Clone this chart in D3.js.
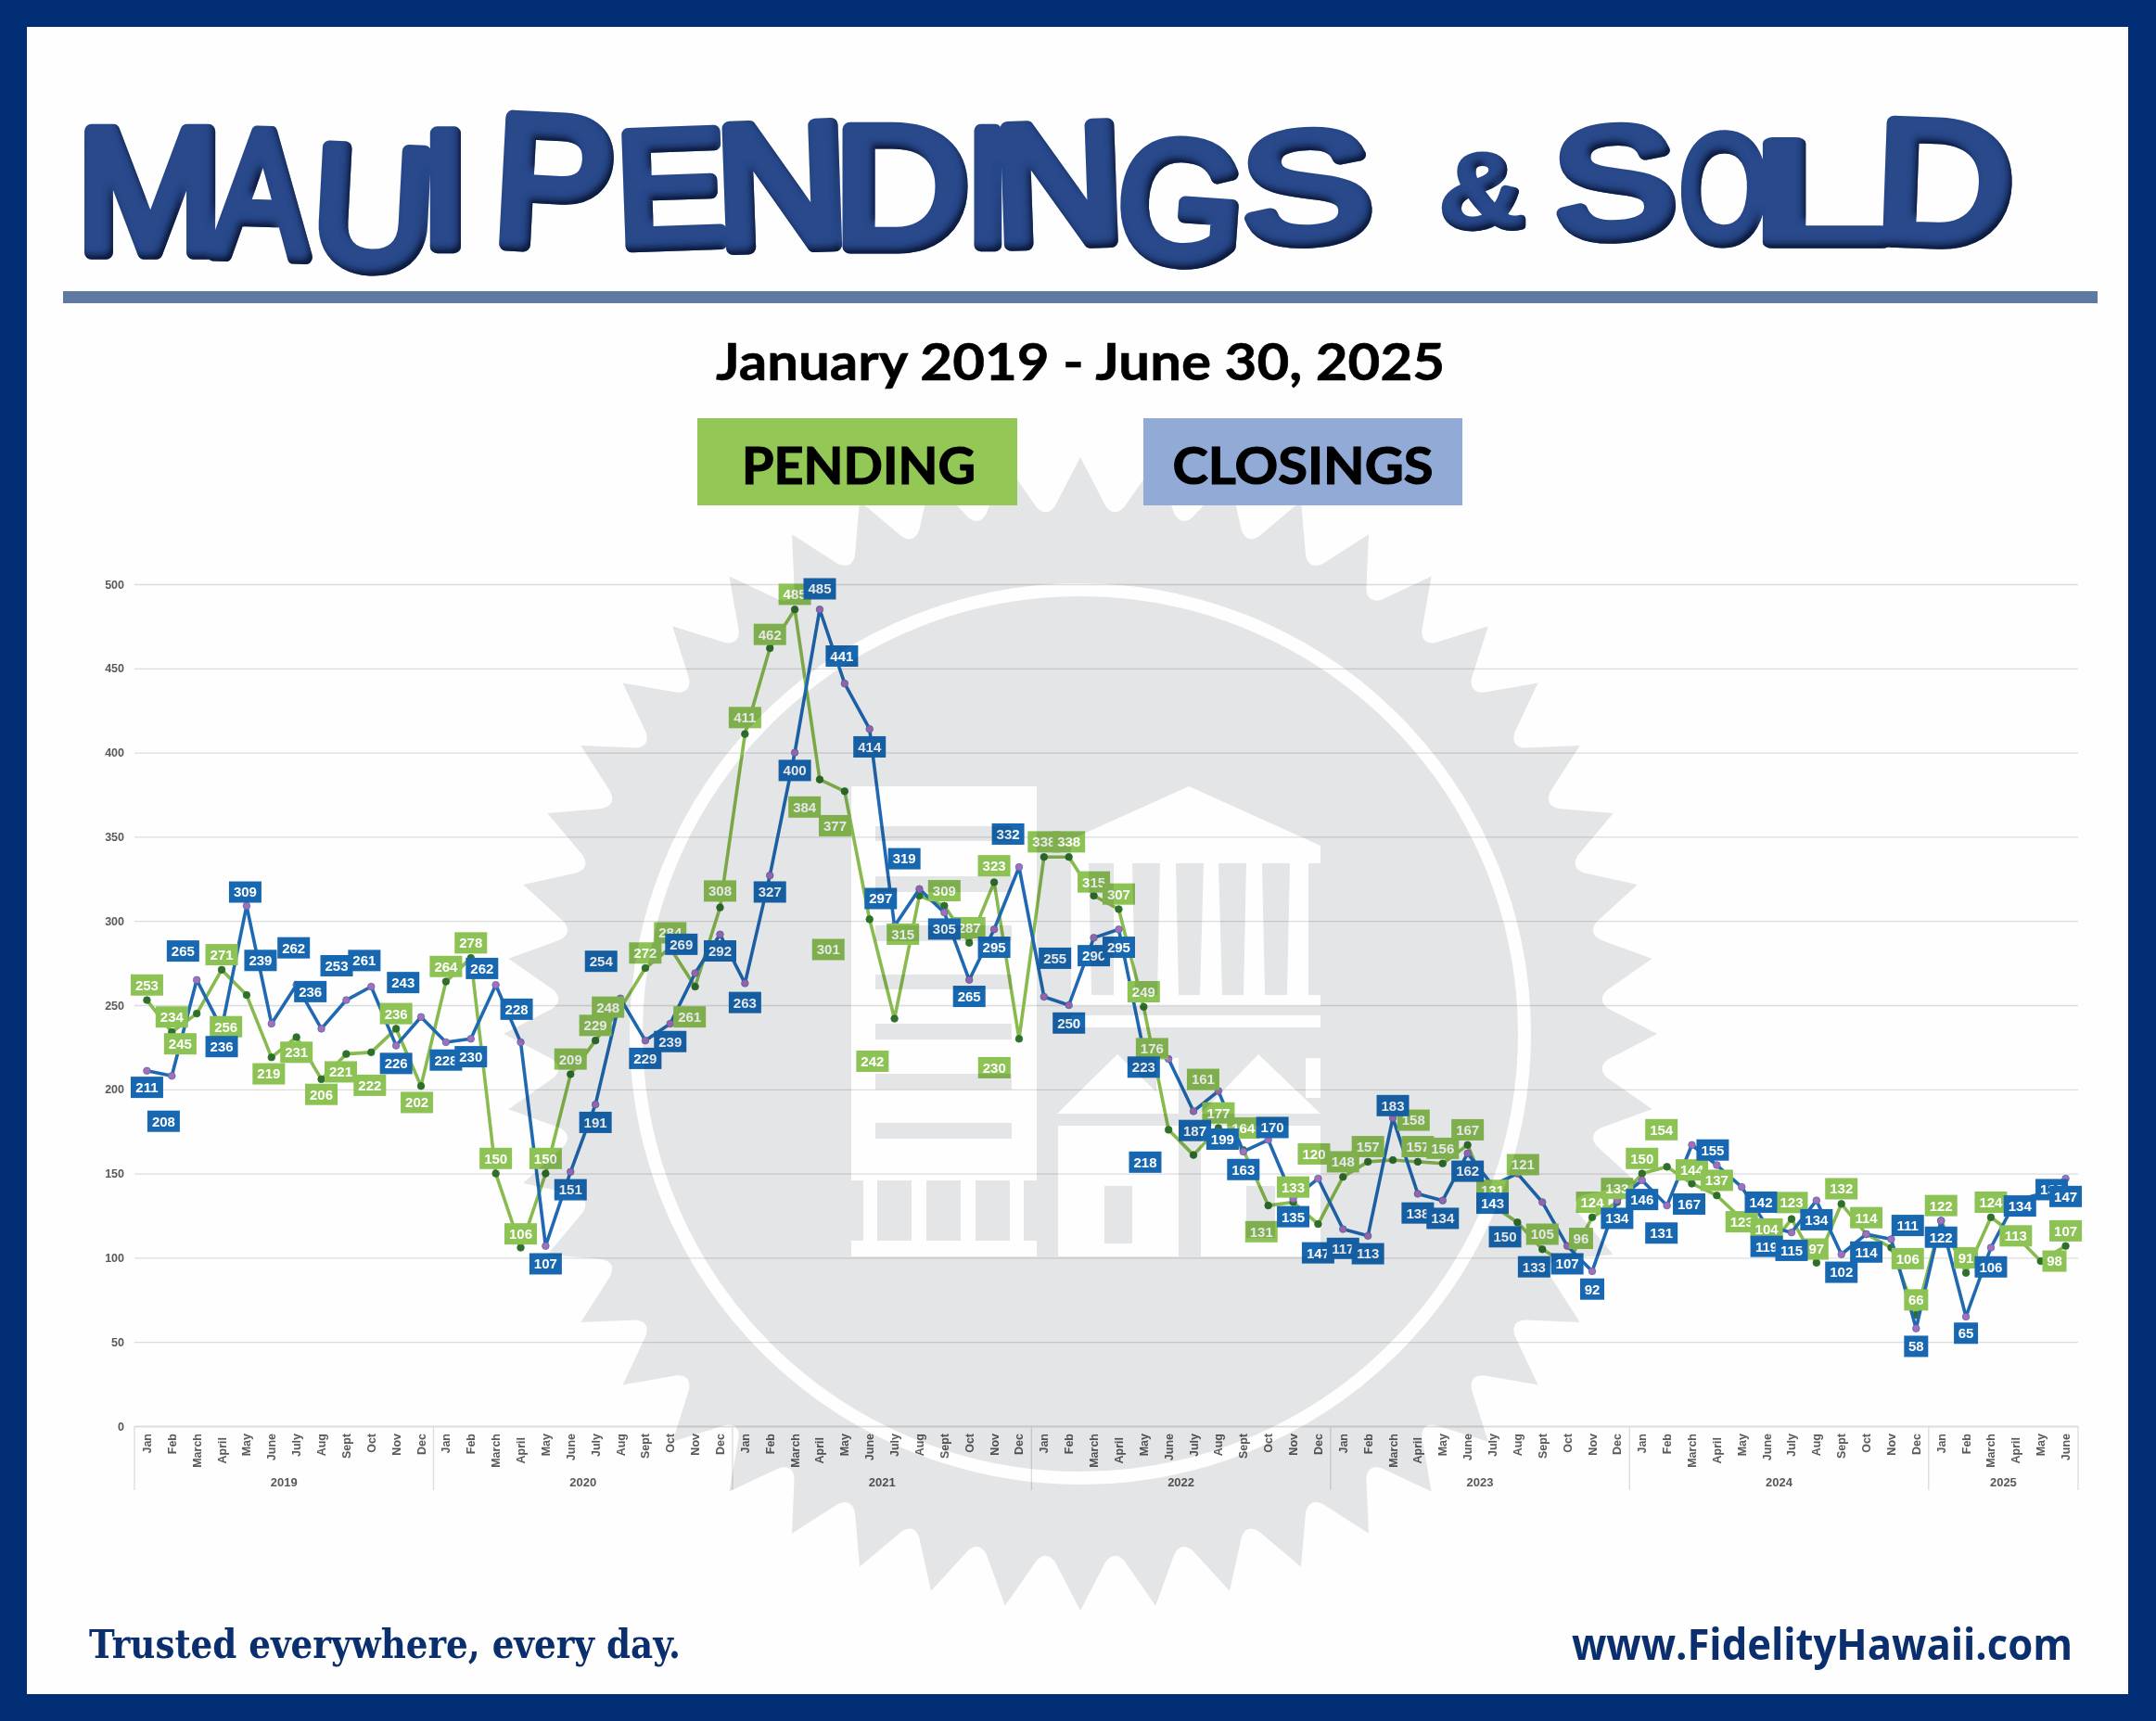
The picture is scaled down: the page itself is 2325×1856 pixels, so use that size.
<!DOCTYPE html>
<html>
<head>
<meta charset="utf-8">
<title>Maui Pendings & Sold</title>
<script src="https://cdn.jsdelivr.net/npm/d3@7"></script>
<style>
body { margin: 0; background: #fff; }
svg { display: block; }
text { font-family: "Liberation Sans", Arial, sans-serif; }
</style>
</head>
<body>
<div class="chart"></div>
<script>
var monthNames = ["Jan","Feb","March","April","May","June","July","Aug","Sept","Oct","Nov","Dec"];
var years = ["2019","2020","2021","2022","2023","2024","2025"];
var monthsInYear = [12,12,12,12,12,12,6];
var yTicks = [0,50,100,150,200,250,300,350,400,450,500];

var pending = [253,234,245,271,256,219,231,206,221,222,236,202,
               264,278,150,106,150,209,229,248,272,284,261,308,
               411,462,485,384,377,301,242,315,309,287,323,230,
               338,338,315,307,249,176,161,177,164,131,133,120,
               148,157,158,157,156,167,131,121,105,96,124,133,
               150,154,144,137,123,104,123,97,132,114,106,66,
               122,91,124,113,98,107];

var closings = [211,208,265,236,309,239,262,236,253,261,226,243,
                228,230,262,228,107,151,191,254,229,239,269,292,
                263,327,400,485,441,414,297,319,305,265,295,332,
                255,250,290,295,223,218,187,199,163,170,135,147,
                117,113,183,138,134,162,143,150,133,107,92,134,
                146,131,167,155,142,119,115,134,102,114,111,58,
                122,65,106,134,138,147];

// data labels were dragged around by hand in the original, so offsets from each point
var pendingDx = [0,0,-12,0,-15,-2,0,0,-4,-1,0,-3,
                 0,0,0,0,0,0,0,-9,0,0,-4,0,
                 0,0,0,-11,-7,-30,-16,-12,0,0,0,-18,
                 0,0,0,0,0,-12,7,0,0,-5,0,-3,
                 0,0,15,0,0,0,0,4,0,10,0,0,
                 0,-4,0,0,0,0,0,0,0,0,12,0,
                 0,0,0,0,10,0];
var pendingDy = [-11,-11,22,-11,23,12,11,11,13,24,-11,12,
                 -11,-11,-11,-10,-11,-11,-11,-1,-11,-11,22,-12,
                 -12,-10,-11,20,25,22,31,28,-11,-11,-12,21,
                 -11,-11,-10,-11,-11,-59,-55,-11,-16,19,-11,-51,
                 -11,-11,-29,-11,-11,-11,-11,-42,-11,-19,-11,-10,
                 -11,-27,-10,-11,2,-16,-12,-10,-11,-12,8,-11,
                 -11,-11,-11,0,0,-11];
var closingsDx = [0,-6,-10,0,-1,-8,-2,-8,-7,-5,0,-13,
                  0,0,-10,-3,0,0,0,-14,0,0,-10,0,
                  0,0,0,0,-2,0,-10,-11,0,0,0,-8,
                  8,0,0,0,0,-17,1,3,0,3,0,0,
                  0,0,0,0,0,0,0,-9,-6,0,0,0,
                  0,-4,-2,-3,14,0,0,0,0,0,12,0,
                  0,0,0,3,8,0];
var closingsDy = [12,33,-21,13,-10,-46,-27,-27,-25,-19,13,-25,
                  13,13,-12,-24,13,13,13,-27,13,13,-21,12,
                  14,12,13,-15,-20,13,-20,-22,12,12,13,-24,
                  -28,13,13,13,12,75,14,35,13,-9,13,54,
                  14,13,-9,14,13,13,13,46,47,13,13,13,
                  14,20,43,-11,11,15,13,14,13,13,-10,13,
                  12,12,14,4,-3,13];
var offsetScale = 2325 / 1568;

// hand lettered title, each glyph fitted into the box it takes up in the artwork [x0,x1,y0,y1,rotate]
var titleLetters = ["M","A","U","I","P","E","N","D","I","N","G","S","&","S","O","L","D"];
var titleBoxes = [[92,232,135,278,0],[225,340,137,282,2],[345,462,155,297,3],[464,496,137,272,0],
                  [543,660,123,272,3],[673,782,137,270,-2],[782,905,130,272,-2],[910,1042,133,272,0],
                  [1050,1080,135,270,0],[1082,1203,130,268,-2],[1209,1336,147,290,4],[1342,1477,137,268,-3],
                  [1553,1647,162,252,0],[1678,1805,132,263,-3],[1811,1907,140,268,2],[1905,2036,148,268,0],
                  [2034,2168,128,268,2]];

var width = 2325, height = 1856;
var margin = {left:145, right:84, top:630, bottom:318};

var svg = d3.select("body div.chart").append("svg").attr("width", width).attr("height", height);
var defs = svg.append("defs");

var bevel = defs.append("filter").attr("id", "bevel")
                .attr("x", "-5%").attr("y", "-5%").attr("width", "110%").attr("height", "110%");
bevel.append("feOffset").attr("in", "SourceAlpha").attr("dx", -4).attr("dy", -6).attr("result", "off");
bevel.append("feGaussianBlur").attr("in", "off").attr("stdDeviation", 3).attr("result", "soft");
bevel.append("feComposite").attr("in", "SourceAlpha").attr("in2", "soft").attr("operator", "out").attr("result", "edge");
bevel.append("feFlood").attr("flood-color", "#0e1b3c").attr("result", "dark");
bevel.append("feComposite").attr("in", "dark").attr("in2", "edge").attr("operator", "in").attr("result", "shade");
var bevelMerge = bevel.append("feMerge");
bevelMerge.append("feMergeNode").attr("in", "SourceGraphic");
bevelMerge.append("feMergeNode").attr("in", "shade");

// frame
svg.append("rect").attr("width", width).attr("height", height).attr("fill", "#012e74");
svg.append("rect").attr("x", 29).attr("y", 29).attr("width", 2266).attr("height", 1798).attr("fill", "#fefefe");

var x = d3.scaleBand()
          .domain(d3.range(pending.length))
          .range([margin.left, width - margin.right]);

var y = d3.scaleLinear()
          .domain([0, 500])
          .range([height - margin.bottom, margin.top]);

var chartGroup = svg.append("g").attr("class", "chart-area");

var yAxis = chartGroup.append("g")
    .attr("transform", "translate("+margin.left+",0)")
    .call(d3.axisLeft(y).tickValues(yTicks).tickSize(-(width - margin.left - margin.right)).tickPadding(11));
yAxis.select(".domain").remove();
yAxis.selectAll("line").attr("stroke", "#dcdcdc").attr("stroke-width", 1.3);
yAxis.selectAll("text").attr("fill", "#595959").attr("font-size", 12.5).attr("font-weight", "bold")
     .style("font-family", "Liberation Sans");

var xAxis = chartGroup.append("g")
    .attr("transform", "translate(0,"+y(0)+")")
    .call(d3.axisBottom(x).tickSize(0).tickFormat(function(d) { return monthNames[d % 12]; }));
xAxis.select(".domain").attr("stroke", "#dcdcdc").attr("stroke-width", 1.3);
xAxis.selectAll("text")
     .attr("transform", "rotate(-90)")
     .attr("text-anchor", "end")
     .attr("x", function(d) { return (d % 12) == 3 ? -12 : -8; })
     .attr("y", 0)
     .attr("dy", "0.36em")
     .attr("fill", "#595959").attr("font-size", 12.5).attr("font-weight", "bold")
     .style("font-family", "Liberation Sans");

// year brackets under the months
var yearStarts = [];
monthsInYear.reduce(function(s, n) { yearStarts.push(s); return s + n; }, 0);
var yearEdges = yearStarts.map(function(s) { return x(s); }).concat([width - margin.right]);

chartGroup.selectAll("line.year").data(yearEdges).enter().append("line")
    .attr("class", "year")
    .attr("x1", function(d) { return d; }).attr("x2", function(d) { return d; })
    .attr("y1", y(0)).attr("y2", y(0) + 69)
    .attr("stroke", "#dcdcdc").attr("stroke-width", 1.3);

chartGroup.selectAll("text.year").data(years).enter().append("text")
    .attr("class", "year")
    .attr("x", function(d, i) { return (yearEdges[i] + yearEdges[i+1]) / 2; })
    .attr("y", y(0) + 65)
    .attr("text-anchor", "middle")
    .attr("fill", "#595959").attr("font-size", 13).attr("font-weight", "bold")
    .text(function(d) { return d; });

// lines and points
var line = d3.line()
             .x(function(d, i) { return x(i) + x.bandwidth() / 2; })
             .y(function(d) { return y(d); });

function drawSeries(values, lineColor, pointFill, pointStroke) {
    chartGroup.append("path")
        .attr("d", line(values))
        .attr("fill", "none")
        .attr("stroke", lineColor)
        .attr("stroke-width", 3.6)
        .attr("stroke-linejoin", "round");
    chartGroup.append("g").selectAll("circle").data(values).enter().append("circle")
        .attr("cx", function(d, i) { return x(i) + x.bandwidth() / 2; })
        .attr("cy", function(d) { return y(d); })
        .attr("r", 3.8)
        .attr("fill", pointFill)
        .attr("stroke", pointStroke)
        .attr("stroke-width", 0.8);
}

function drawLabels(values, dx, dy, fill) {
    var g = chartGroup.append("g").selectAll("g").data(values).enter().append("g")
        .attr("transform", function(d, i) {
            var cx = x(i) + x.bandwidth() / 2 + dx[i] * offsetScale;
            var cy = y(d) + dy[i] * offsetScale;
            return "translate("+cx+","+cy+")";
        });
    g.append("rect")
        .attr("x", function(d) { return d < 100 ? -13 : -17.5; })
        .attr("y", -11.5)
        .attr("width", function(d) { return d < 100 ? 26 : 35; })
        .attr("height", 23)
        .attr("fill", fill);
    g.append("text")
        .attr("text-anchor", "middle")
        .attr("y", 5.4)
        .attr("fill", "#fff")
        .attr("font-size", 15)
        .attr("font-weight", "bold")
        .text(function(d) { return d; });
}

drawSeries(pending, "#88ba4e", "#2f6f2c", "#2f6f2c");
drawSeries(closings, "#1f69b3", "#a86db9", "#4a6fb0");
drawLabels(pending, pendingDx, pendingDy, "#8dc254");
drawLabels(closings, closingsDx, closingsDy, "#1768b1");

// seal sits over the chart and multiplies, so the grid and labels show through
var seal = svg.append("g")
              .attr("transform", "translate(1165,1115)")
              .style("mix-blend-mode", "multiply");
var grey = "#e5e6e8";

function polar(r, deg) {
    var a = deg * Math.PI / 180;
    return (r * Math.cos(a)).toFixed(1) + "," + (r * Math.sin(a)).toFixed(1);
}
var burst = "";
d3.range(48).forEach(function(i) {
    var a = i * 7.5;
    burst += (i == 0 ? "M" : "L") + polar(622, a);
    burst += "L" + polar(570, a + 2.75) + "Q" + polar(558, a + 3.75) + " " + polar(570, a + 4.75);
});
seal.append("path").attr("d", burst + "Z").attr("fill", grey);
seal.append("circle").attr("r", 479).attr("fill", "none").attr("stroke", "#fff").attr("stroke-width", 14);

var art = seal.append("g").attr("transform", "translate(-1165,-1115)");

function box(x0, x1, y0, y1, fill) {
    art.append("rect").attr("x", x0).attr("y", y0).attr("width", x1 - x0).attr("height", y1 - y0).attr("fill", fill);
}
function poly(points, fill) {
    art.append("polygon").attr("points", points).attr("fill", fill);
}

// office tower
box(918, 1118, 848, 1273, "#fff");
[[891,907],[945,962],[998,1015],[1051,1067],[1104,1121],[1158,1175],[1211,1228]].forEach(function(s) {
    box(944, 1091, s[0], s[1], grey);
});
[[931,946],[983,999],[1036,1052],[1089,1104]].forEach(function(c) { box(c[0], c[1], 1273, 1338, "#fff"); });
box(918, 1118, 1338, 1355, "#fff");

// bank
poly("1140,912 1282,848 1424,912", "#fff");
box(1155, 1424, 912, 931, "#fff");
box(1155, 1411, 931, 1073, "#fff");
[[1174,1201,1177,1201],[1221,1251,1224,1248],[1268,1298,1271,1294],[1314,1344,1318,1341],[1361,1391,1364,1388]].forEach(function(g) {
    poly(g[0]+",931 "+g[1]+",931 "+g[3]+",1073 "+g[2]+",1073", grey);
});
box(1155, 1424, 1073, 1085, "#fff");
box(1155, 1424, 1095, 1108, "#fff");

// houses
box(1247, 1271, 1141, 1201, "#fff");
poly("1140,1201 1205,1137 1271,1201", "#fff");
box(1141, 1271, 1214, 1355, "#fff");
box(1191, 1221, 1279, 1341, grey);
box(1408, 1424, 1141, 1184, "#fff");
poly("1295,1201 1357,1137 1424,1201", "#fff");
box(1295, 1424, 1214, 1355, "#fff");
box(1344, 1375, 1279, 1335, grey);

// title, fitted on the ink of each glyph since getBBox only gives the em box
var titleGroup = svg.append("g").attr("filter", "url(#bevel)");
var titleStroke = 13;
var ruler = document.createElement("canvas").getContext("2d");
ruler.font = "160px 'Liberation Sans'";
titleLetters.forEach(function(letter, i) {
    var b = titleBoxes[i];
    var m = ruler.measureText(letter);
    var inkW = m.actualBoundingBoxLeft + m.actualBoundingBoxRight;
    var inkH = m.actualBoundingBoxAscent + m.actualBoundingBoxDescent;
    var inkCx = (m.actualBoundingBoxRight - m.actualBoundingBoxLeft) / 2;
    var inkCy = (m.actualBoundingBoxDescent - m.actualBoundingBoxAscent) / 2;
    var sx = (b[1] - b[0] - titleStroke) / inkW;
    var sy = (b[3] - b[2] - titleStroke) / inkH;
    var cx = (b[0] + b[1]) / 2, cy = (b[2] + b[3]) / 2;
    titleGroup.append("text")
        .attr("font-size", 160)
        .attr("fill", "#2c4a8b")
        .attr("stroke", "#2c4a8b")
        .attr("stroke-width", titleStroke)
        .attr("stroke-linejoin", "round")
        .attr("stroke-linecap", "round")
        .attr("transform", "translate("+cx+","+cy+") rotate("+b[4]+") scale("+sx+","+sy+") translate("+(-inkCx)+","+(-inkCy)+")")
        .text(letter);
});

// rule under title
svg.append("rect").attr("x", 68).attr("y", 314).attr("width", 2194).attr("height", 13).attr("fill", "#5f7aa1");

svg.append("text")
    .attr("x", 1165).attr("y", 410)
    .attr("text-anchor", "middle")
    .style("font-family", "Lato")
    .attr("font-size", 56).attr("font-weight", 700).attr("fill", "#000")
    .attr("stroke", "#000").attr("stroke-width", 0.6)
    .attr("textLength", 786).attr("lengthAdjust", "spacingAndGlyphs")
    .text("January 2019 - June 30, 2025");

// legend
svg.append("rect").attr("x", 752).attr("y", 451).attr("width", 345).attr("height", 94).attr("fill", "#93c756");
svg.append("rect").attr("x", 1233).attr("y", 451).attr("width", 344).attr("height", 94).attr("fill", "#92aad6");
svg.append("text").attr("x", 926).attr("y", 522).attr("text-anchor", "middle")
    .style("font-family", "Lato")
    .attr("font-size", 55).attr("font-weight", 700).attr("fill", "#000")
    .attr("stroke", "#000").attr("stroke-width", 1.2)
    .attr("textLength", 252).attr("lengthAdjust", "spacingAndGlyphs")
    .text("PENDING");
svg.append("text").attr("x", 1405).attr("y", 522).attr("text-anchor", "middle")
    .style("font-family", "Lato")
    .attr("font-size", 55).attr("font-weight", 700).attr("fill", "#000")
    .attr("stroke", "#000").attr("stroke-width", 1.2)
    .attr("textLength", 281).attr("lengthAdjust", "spacingAndGlyphs")
    .text("CLOSINGS");

// footer
svg.append("text").attr("x", 96).attr("y", 1788)
    .style("font-family", "'DejaVu Serif Condensed', 'DejaVu Serif'")
    .attr("font-size", 43).attr("font-weight", "bold").attr("fill", "#0a2e6e")
    .attr("textLength", 638).attr("lengthAdjust", "spacingAndGlyphs")
    .text("Trusted everywhere, every day.");
svg.append("text").attr("x", 1695).attr("y", 1790)
    .style("font-family", "Open Sans")
    .attr("font-size", 46).attr("font-weight", 700).attr("fill", "#0a2e6e")
    .attr("textLength", 540).attr("lengthAdjust", "spacingAndGlyphs")
    .text("www.FidelityHawaii.com");
</script>
</body>
</html>
